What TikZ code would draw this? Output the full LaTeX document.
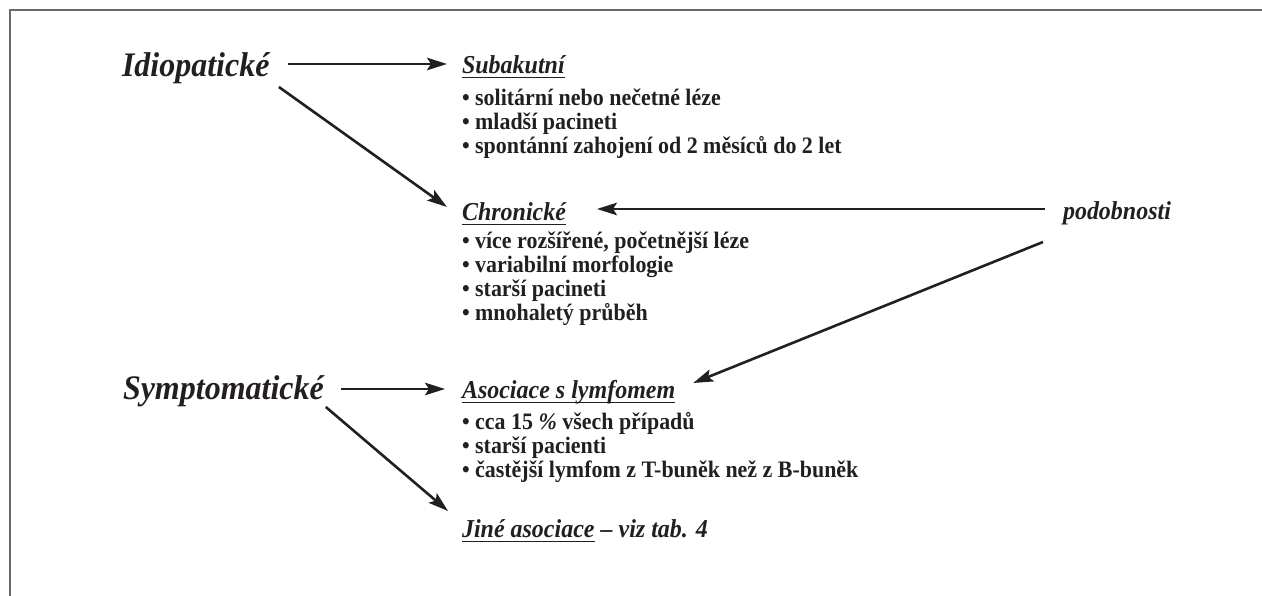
\documentclass[tikz,border=0pt]{standalone}
\usepackage{fontspec}
\setmainfont{Liberation Serif}[FakeStretch=0.93]
\usetikzlibrary{arrows.meta,calc}
\definecolor{ink}{HTML}{231F20}
\definecolor{framecol}{HTML}{6A6A6A}
\newcommand\myul[1]{\setbox0\hbox{#1}\rlap{\rule[-4.2pt]{\wd0}{1.5pt}}\box0\relax}
\begin{document}
\begin{tikzpicture}[x=1pt,y=1pt,
  every node/.style={inner sep=0pt, outer sep=0pt, text=ink, anchor=base west},
  big/.style={font=\fontsize{34.4}{38}\selectfont\bfseries\itshape},
  head/.style={font=\fontsize{25.8}{28}\selectfont\bfseries\itshape},
  items/.style={font=\fontsize{23.6}{23.7}\selectfont\bfseries},
  arr/.style={draw=ink, line width=2.6pt, -{Stealth[length=20pt,width=12.5pt,inset=4pt]}}
]
\useasboundingbox (0,0) rectangle (1262,596);
% frame (only top and left edges visible)
\draw[framecol, line width=2pt] (9.5,0) -- (9.5,585.5) -- (1262,585.5);

% left labels
\node[big] (idio) at (122,519) {Idiopatické};
\node[big] (symp) at (123,196) {Symptomatické};
\node[head] (podob) at (1063,376) {podobnosti};

% headings
\node[head] (sub) at (462,522) {\myul{Subakutní}};
\node[head] (chron) at (462,375) {\myul{Chronické}};
\node[head] (asoc) at (462,197) {\myul{Asociace s lymfomem}};
\node[head] (jine) at (462,58) {\myul{Jiné asociace} – viz tab. 4};

% item lists
\node[items] (subitems) at (462,490) {\begin{tabular}[t]{@{}l@{}}
• solitární nebo nečetné léze\\
• mladší pacineti\\
• spontánní zahojení od 2 měsíců do 2 let
\end{tabular}};
\node[items] (chronitems) at (462,347) {\begin{tabular}[t]{@{}l@{}}
• více rozšířené, početnější léze\\
• variabilní morfologie\\
• starší pacineti\\
• mnohaletý průběh
\end{tabular}};
\node[items] (asocitems) at (462,166) {\begin{tabular}[t]{@{}l@{}}
• cca 15 {\itshape\%} všech případů\\
• starší pacienti\\
• častější lymfom z T-buněk než z B-buněk
\end{tabular}};

% connectors
\draw[arr] ($(idio.base east)+(18.4,13)$) -- ($(sub.base west)+(-15,10)$);
\draw[arr] ($(idio.base east)+(9.4,-10)$) -- ($(chron.base west)+(-15,14)$);
\draw[arr] ($(podob.base west)+(-18,11)$) -- ($(chron.base east)+(31,12)$);
\draw[arr] ($(podob.base west)+(-20,-22)$) -- ($(asoc.base east)+(18,16)$);
\draw[arr] ($(symp.base east)+(17,11)$) -- ($(asoc.base west)+(-17,10)$);
\draw[arr] ($(symp.base east)+(2,-7)$) -- ($(jine.base west)+(-14,27)$);
\end{tikzpicture}
\end{document}
